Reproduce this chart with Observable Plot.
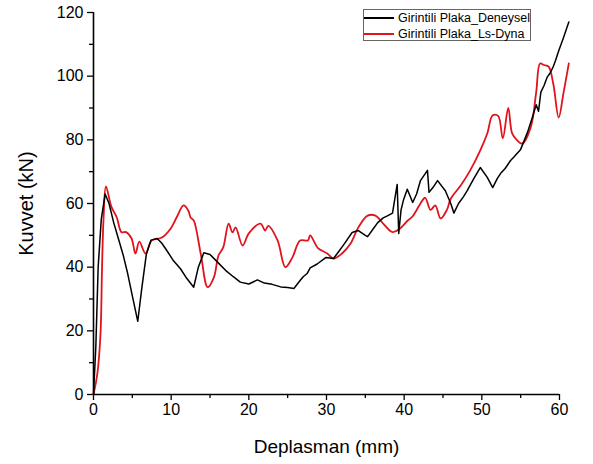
<!DOCTYPE html>
<html>
<head>
<meta charset="utf-8">
<script src="https://cdn.jsdelivr.net/npm/d3@7"></script>
<script src="https://cdn.jsdelivr.net/npm/@observablehq/plot@0.6"></script>
<style>
  body { margin: 0; background: #fff; }
  #wrap { position: relative; width: 593px; height: 464px; font-family: "Liberation Sans", Arial, sans-serif; }
  #legend { position: absolute; left: 363px; top: 9px; width: 168px; height: 32px; border: 1px solid #666; background: #fff; font-size: 12.5px; box-sizing: border-box; }
  .row { position: absolute; left: 0; height: 16px; display: flex; align-items: center; white-space: nowrap; }
  .sw { width: 30px; height: 0; margin-right: 4px; }
</style>
</head>
<body>
<div id="wrap"></div>
<script>
const seriesNames = ["Girintili Plaka_Deneysel", "Girintili Plaka_Ls-Dyna"];
const seriesColors = ["#000000", "#e0141c"];

const expX = [0,0.3,0.6,1.0,1.5,2.0,2.6,3.2,3.8,4.4,5.0,5.7,6.2,6.8,7.4,8.2,8.8,9.5,10.3,11.2,12.0,12.9,13.5,14.2,15.0,16.0,17.0,18.0,18.9,20.0,21.1,22.0,23.0,24.1,25.0,25.8,26.6,27.0,27.5,27.9,28.8,29.9,30.9,31.6,32.2,33.3,34.1,35.0,35.3,36.0,36.6,37.3,37.9,38.5,39.1,39.3,39.6,39.9,40.4,41.1,41.6,42.1,43.0,43.2,43.7,44.3,45.3,46.0,46.4,47.0,47.6,48.1,49.0,49.8,50.7,51.4,52.0,52.4,53.0,53.7,54.1,55.0,55.9,56.5,57.0,57.3,57.6,58.0,58.4,58.8,59.2,59.5,59.9,60.5,61.2];
const expY = [0,15,40,55,63,60,54,49,44,38,31,23,33,44,48.5,49,47.5,45,42,39.5,36.5,33.7,40,44.5,44,41.5,39,37,35.3,34.7,36,35,34.6,33.8,33.6,33.3,35.8,37,38,39.8,41,43,42.7,45,47,50.9,51.5,50,49.6,52,54,55.5,56.2,57,66,50.6,58,61,64.5,60.3,63,67.2,70.4,63.5,65,67.2,64,60,57,60,62,64,68,71.3,68.2,65,67.9,69.4,71,73.5,74.5,77,82.5,87,91,89,95,97,99.6,101,103,105,108,112,117];

const simX = [0,0.5,0.9,1.1,1.3,1.6,2.3,3.0,3.6,4.2,4.9,5.4,5.9,6.7,7.5,8.8,9.9,10.7,11.6,12.2,12.5,12.9,13.8,14.7,15.5,16.1,16.7,17.4,17.9,18.3,19.2,20.0,21.5,22.1,22.5,23.7,24.7,25.6,26.6,27.6,27.9,28.9,30.1,30.9,32.0,33.1,34.1,35.3,36.3,37.3,38.5,39.4,40.4,41.1,42.1,42.7,43.4,44.0,44.7,45.5,46.0,47.3,48.5,49.8,50.7,51.4,52.1,52.7,53.4,53.9,54.5,55.2,56.3,57.0,57.5,58.0,58.6,59.2,59.9,60.5,61.2];
const simY = [0,6.6,19,40,55.6,65.4,59,55.6,51,51,49,44.3,48,44.3,48.4,49.3,52,55.6,59.4,57.8,55.6,54.7,44.3,33.7,36.8,43.7,46.2,53.7,50.9,52.5,46.8,50.6,53.7,51.5,53,48.4,40,43,48.4,48.4,50,46,44.3,42.7,44.3,47.4,52.5,56.2,56.2,53.7,51,52,54.5,56,60,61.8,58,59.4,55.3,58,61.5,65.7,70.4,76.7,82,87.7,87.5,80.5,90,82,80,78.8,84,95,104,103.5,103,97.6,87,94.5,104];

const xMajor = [0,10,20,30,40,50,60];
const xMinor = [5,15,25,35,45,55];
const yMajor = [0,20,40,60,80,100,120];
const yMinor = [10,30,50,70,90,110];

const expData = expX.map((x, i) => ({x, y: expY[i]}));
const simData = simX.map((x, i) => ({x, y: simY[i]}));

const chart = Plot.plot({
  width: 593,
  height: 464,
  marginLeft: 93,
  marginRight: 34,
  marginTop: 12,
  marginBottom: 70,
  style: {fontFamily: "'Liberation Sans', Arial, sans-serif", background: "#fff", color: "#000"},
  x: {domain: [0, 60]},
  y: {domain: [0, 120]},
  marks: [
    Plot.axisX({ticks: xMajor, tickSize: 6, tickPadding: 3, fontSize: 16, label: null, strokeWidth: 1.3}),
    Plot.axisX({ticks: xMinor, tickSize: 4, text: null, label: null, strokeWidth: 1.3}),
    Plot.axisX({ticks: [], label: "Deplasman (mm)", labelAnchor: "center", labelArrow: "none", labelOffset: 58, fontSize: 19}),
    Plot.axisY({ticks: yMajor, tickSize: 6, tickPadding: 4, fontSize: 16, label: null, strokeWidth: 1.3}),
    Plot.axisY({ticks: yMinor, tickSize: 4, text: null, label: null, strokeWidth: 1.3}),
    Plot.axisY({ticks: [], label: "Kuvvet (kN)", labelAnchor: "center", labelArrow: "none", labelOffset: 75, fontSize: 20}),
    Plot.line(simData, {x: "x", y: "y", stroke: seriesColors[1], strokeWidth: 1.8, curve: "catmull-rom"}),
    Plot.line(expData, {x: "x", y: "y", stroke: seriesColors[0], strokeWidth: 1.5}),
    Plot.ruleX([0], {stroke: "#000", strokeWidth: 1.6}),
    Plot.ruleY([0], {stroke: "#000", strokeWidth: 1.6})
  ]
});

const wrap = document.getElementById("wrap");
wrap.appendChild(chart);

const legend = document.createElement("div");
legend.id = "legend";
seriesNames.forEach((name, i) => {
  const row = document.createElement("div");
  row.className = "row";
  row.style.top = (i * 16) + "px";
  const sw = document.createElement("span");
  sw.className = "sw";
  sw.style.borderTop = (i === 0 ? 2 : 2.5) + "px solid " + seriesColors[i];
  const t = document.createElement("span");
  t.textContent = name;
  row.appendChild(sw);
  row.appendChild(t);
  legend.appendChild(row);
});
wrap.appendChild(legend);
</script>
</body>
</html>
